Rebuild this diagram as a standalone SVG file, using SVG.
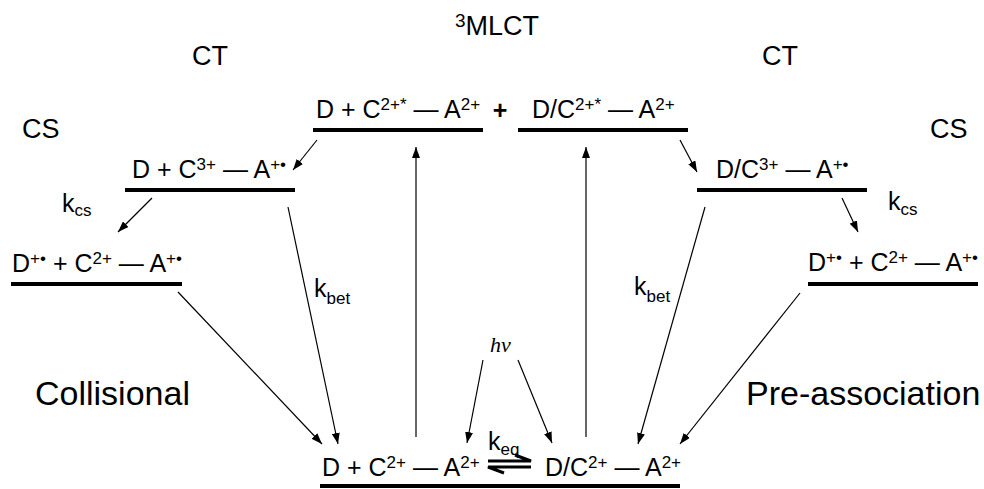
<svg xmlns="http://www.w3.org/2000/svg" width="984" height="489" viewBox="0 0 984 489">
<style>
text{font-family:"Liberation Sans",Arial,sans-serif;fill:#000}
.lv{font-size:25px}
.sup{font-size:17px}
.lab{font-size:27px}
.lsup{font-size:19px}
.big{font-size:34px}
.k{font-size:25px}
.sub{font-size:17px}
.hv{font-family:"Liberation Serif","Times New Roman",serif;font-style:italic;font-size:22px}
.bar{stroke:#000;stroke-width:4;fill:none}
.c{stroke:#000;stroke-width:1.2;fill:none}
.arr{marker-end:url(#ah)}
.hp{stroke:#000;stroke-width:3;fill:none}
</style>
<defs>
<marker id="ah" markerUnits="userSpaceOnUse" markerWidth="11" markerHeight="8" refX="11" refY="4" orient="auto">
<path d="M0,0 L11,4 L0,8 z" fill="#000"/>
</marker>
</defs>

<g id="labels">
<text x="455" y="35" class="lab"><tspan class="lsup" dy="-8">3</tspan><tspan dy="8">MLCT</tspan></text>
<text x="192" y="65" class="lab">CT</text>
<text x="762" y="65" class="lab">CT</text>
<text x="22" y="138" class="lab">CS</text>
<text x="930" y="138" class="lab">CS</text>
<text x="35" y="405" class="big">Collisional</text>
<text x="746" y="405" class="big">Pre-association</text>
<text x="500" y="119" class="lv" text-anchor="middle" font-weight="bold" font-size="27">+</text>
</g>

<g id="mlct-collisional">
<text x="316" y="118" class="lv">D + C<tspan class="sup" dy="-8">2+*</tspan><tspan dy="8"> — A</tspan><tspan class="sup" dy="-8">2+</tspan></text>
<line class="bar" x1="313" y1="130" x2="483" y2="130"/>
</g>
<g id="mlct-preassoc">
<text x="532" y="118" class="lv">D/C<tspan class="sup" dy="-8">2+*</tspan><tspan dy="8"> — A</tspan><tspan class="sup" dy="-8">2+</tspan></text>
<line class="bar" x1="518" y1="130" x2="688" y2="130"/>
</g>
<g id="ct-collisional">
<text x="132" y="178" class="lv">D + C<tspan class="sup" dy="-8">3+</tspan><tspan dy="8"> — A</tspan><tspan class="sup" dy="-8">+•</tspan></text>
<line class="bar" x1="125" y1="190" x2="295" y2="190"/>
</g>
<g id="ct-preassoc">
<text x="716" y="178" class="lv">D/C<tspan class="sup" dy="-8">3+</tspan><tspan dy="8"> — A</tspan><tspan class="sup" dy="-8">+•</tspan></text>
<line class="bar" x1="697" y1="190" x2="867" y2="190"/>
</g>
<g id="cs-collisional">
<text x="12" y="272" class="lv">D<tspan class="sup" dy="-8">+•</tspan><tspan dy="8"> + C</tspan><tspan class="sup" dy="-8">2+</tspan><tspan dy="8"> — A</tspan><tspan class="sup" dy="-8">+•</tspan></text>
<line class="bar" x1="11" y1="284" x2="182" y2="284"/>
</g>
<g id="cs-preassoc">
<text x="808" y="271" class="lv">D<tspan class="sup" dy="-8">+•</tspan><tspan dy="8"> + C</tspan><tspan class="sup" dy="-8">2+</tspan><tspan dy="8"> — A</tspan><tspan class="sup" dy="-8">+•</tspan></text>
<line class="bar" x1="808" y1="284" x2="978" y2="284"/>
</g>
<g id="ground">
<text x="322" y="476" class="lv">D + C<tspan class="sup" dy="-8">2+</tspan><tspan dy="8"> — A</tspan><tspan class="sup" dy="-8">2+</tspan></text>
<text x="545" y="476" class="lv">D/C<tspan class="sup" dy="-8">2+</tspan><tspan dy="8"> — A</tspan><tspan class="sup" dy="-8">2+</tspan></text>
<line class="bar" x1="320" y1="486" x2="680" y2="486"/>
</g>

<g id="connectors">
<line class="c arr" x1="317" y1="140" x2="293" y2="170"/>
<line class="c arr" x1="680" y1="140" x2="697" y2="172"/>
<line class="c arr" x1="152" y1="198" x2="118" y2="232"/>
<line class="c arr" x1="842" y1="198" x2="858" y2="232"/>
<line class="c arr" x1="288" y1="207" x2="338" y2="444"/>
<line class="c arr" x1="705" y1="207" x2="638" y2="444"/>
<line class="c arr" x1="178" y1="292" x2="322" y2="444"/>
<line class="c arr" x1="800" y1="293" x2="680" y2="444"/>
<line class="c arr" x1="416" y1="437" x2="416" y2="147"/>
<line class="c arr" x1="586" y1="437" x2="586" y2="147"/>
<line class="c arr" x1="483" y1="360" x2="467" y2="443"/>
<line class="c arr" x1="518" y1="360" x2="552" y2="443"/>
<path class="hp" d="M488,461 L531,461 L515,455"/>
<path class="hp" d="M531,467 L488,467 L504,473"/>
</g>

<g id="rate-labels">
<text x="62" y="212" class="k">k<tspan class="sub" dy="4">cs</tspan></text>
<text x="888" y="210" class="k">k<tspan class="sub" dy="5">cs</tspan></text>
<text x="314" y="297" class="k">k<tspan class="sub" dy="7">bet</tspan></text>
<text x="634" y="295" class="k">k<tspan class="sub" dy="7">bet</tspan></text>
<text x="488" y="450" class="k">k<tspan class="sub" dy="5">eq</tspan></text>
<text x="490" y="352" class="hv">hν</text>
</g>
</svg>
